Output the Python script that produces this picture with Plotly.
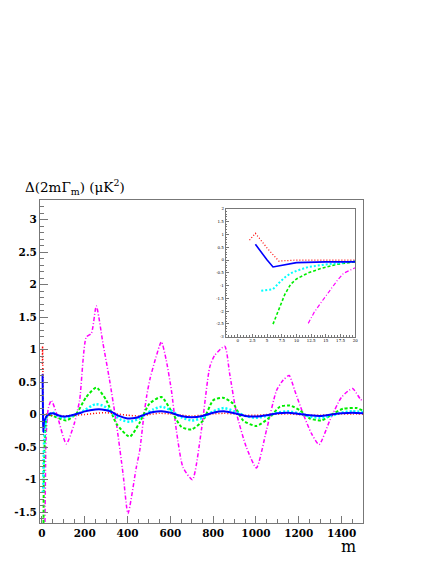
import plotly.graph_objects as go

# values, per series (m, Delta(2m Gamma_m))
m_red = [2, 3, 5, 7, 10, 20, 40, 60, 100, 150, 200, 250, 300, 350, 400, 450, 500, 550, 600,
         650, 700, 750, 800, 850, 900, 950, 1000, 1050, 1100, 1150, 1200, 1250, 1300, 1350,
         1400, 1450, 1500]
y_red = [0.78, 1.05, 0.47, -0.04, 0.0, 0.01, -0.02, 0.0, -0.02, -0.01, 0.0, 0.02, 0.03, 0.01,
         -0.01, -0.02, 0.0, 0.02, 0.01, -0.01, -0.02, -0.01, 0.01, 0.02, 0.01, -0.01, -0.01,
         0.0, 0.01, 0.01, 0.0, -0.01, -0.01, 0.0, 0.01, 0.01, 0.01]

m_blue = [3, 4, 5, 6, 8, 10, 15, 20, 30, 50, 75, 100, 125, 150, 175, 200, 250, 280, 320, 360,
          400, 440, 480, 520, 560, 600, 650, 700, 750, 800, 850, 900, 950, 1000, 1050, 1100,
          1150, 1200, 1250, 1300, 1350, 1400, 1450, 1500]
y_blue = [0.62, 0.3, 0.0, -0.27, -0.18, -0.1, -0.07, -0.03, 0.0, 0.02, -0.01, -0.03, -0.02,
          0.0, 0.02, 0.05, 0.08, 0.08, 0.05, -0.02, -0.06, -0.05, 0.0, 0.04, 0.05, 0.03, -0.02,
          -0.04, -0.02, 0.03, 0.05, 0.02, -0.02, -0.03, -0.01, 0.02, 0.03, 0.01, -0.01, -0.02,
          0.0, 0.02, 0.03, 0.02]

m_cyan = [4, 5, 6, 7, 8, 9, 10, 12, 15, 18, 20, 30, 50, 75, 100, 130, 160, 200, 250, 290, 330,
          370, 410, 450, 490, 520, 560, 600, 650, 700, 750, 800, 850, 900, 950, 1000, 1050,
          1100, 1150, 1200, 1250, 1300, 1350, 1400, 1450, 1500]
y_cyan = [-1.2, -1.17, -1.14, -0.9, -0.68, -0.52, -0.42, -0.27, -0.17, -0.1, -0.04, 0.0, 0.03,
          -0.02, -0.05, -0.03, 0.0, 0.07, 0.16, 0.13, 0.02, -0.08, -0.11, -0.07, 0.02, 0.08,
          0.12, 0.07, -0.04, -0.09, -0.05, 0.05, 0.1, 0.05, -0.02, -0.05, -0.02, 0.03, 0.05,
          0.02, -0.03, -0.05, -0.02, 0.03, 0.05, 0.04]

m_green = [6, 7, 8, 9, 10, 12, 14, 17, 20, 28, 50, 67, 114, 161, 207, 254, 301, 348, 410, 457,
           503, 558, 612, 652, 698, 753, 800, 846, 893, 940, 1002, 1065, 1111, 1158, 1205,
           1252, 1306, 1361, 1407, 1470, 1500]
y_green = [-2.51, -1.9, -1.35, -0.95, -0.74, -0.5, -0.34, -0.16, -0.07, 0.0, -0.02, -0.04,
           -0.09, 0.015, 0.27, 0.415, 0.22, -0.14, -0.34, -0.12, 0.17, 0.27, 0.015, -0.19,
           -0.23, -0.09, 0.22, 0.26, 0.17, -0.09, -0.175, -0.04, 0.12, 0.14, 0.066, -0.06,
           -0.09, 0.015, 0.09, 0.1, 0.06]

m_mag = [12, 13, 14, 15, 16, 17, 18, 19, 20, 30, 44, 70, 114, 150, 176, 207, 231, 254, 285,
         316, 348, 379, 402, 441, 457, 475, 490, 505, 530, 558, 580, 605, 628, 659, 703, 745,
         784, 807, 854, 877, 909, 955, 1002, 1049, 1096, 1127, 1155, 1181, 1220, 1259, 1295,
         1345, 1400, 1451, 1485, 1500]
y_mag = [-2.48, -2.05, -1.72, -1.4, -1.1, -0.78, -0.52, -0.4, -0.3, 0.1, 0.22, 0.0, -0.45,
         -0.15, 0.22, 1.19, 1.25, 1.67, 1.1, 0.53, -0.14, -0.91, -1.52, -0.81, -0.55, -0.05,
         0.3, 0.55, 0.85, 1.12, 0.85, 0.37, -0.24, -0.81, -1.0, -0.24, 0.73, 0.91, 1.05, 0.63,
         0.02, -0.5, -0.82, -0.24, 0.37, 0.53, 0.6, 0.37, 0.015, -0.29, -0.46, -0.09, 0.27,
         0.4, 0.25, 0.2]

series = [
    (m_mag, y_mag, "#ff00ff", "4px,2px,1px,2px", 1.5),
    (m_green, y_green, "#00ee00", "3px,2px", 2),
    (m_cyan, y_cyan, "#00ffff", "2px,2px", 2.5),
    (m_red, y_red, "#ff0000", "1px,2px", 1.5),
    (m_blue, y_blue, "#0000ff", "solid", 2),
]

fig = go.Figure()
for mx, vy, col, dash, w in series:
    fig.add_trace(go.Scatter(x=mx, y=vy, mode="lines",
                             line=dict(color=col, dash=dash, width=w, shape="spline", smoothing=0.6),
                             xaxis="x", yaxis="y", showlegend=False, hoverinfo="skip"))
# inset: same series, first few multipoles
for mx, vy, col, dash, w in series:
    fig.add_trace(go.Scatter(x=mx, y=vy, mode="lines", line=dict(color=col, dash=dash, width=w * 0.8),
                             xaxis="x2", yaxis="y2", showlegend=False, hoverinfo="skip"))

serif = "DejaVu Serif"
tickfont = dict(family=serif, size=10.5, color="black", weight="bold")
small = dict(family=serif, size=4, color="black")
frame = dict(showline=True, linecolor="#777", linewidth=1, mirror=True, showgrid=False,
             zeroline=False, automargin=False)

# page body has an 8px margin, so the figure is 16px smaller than the window
fig.update_layout(
    width=420, height=548,
    margin=dict(l=32, r=65, t=192, b=33),
    font=dict(family=serif),
    paper_bgcolor="white", plot_bgcolor="white",
    xaxis=dict(domain=[0, 1], range=[-9, 1500], tickvals=[0, 200, 400, 600, 800, 1000, 1200, 1400],
               ticks="inside", ticklen=7, tickcolor="#777", tickfont=tickfont,
               minor=dict(ticks="inside", dtick=50, ticklen=4, tickcolor="#777"), **frame),
    yaxis=dict(domain=[0, 1], range=[-1.667, 3.3], tickvals=[-1.5, -1, -0.5, 0, 0.5, 1, 1.5, 2, 2.5, 3],
               ticktext=["-1.5", "-1", "-0.5", "0", "0.5", "1", "1.5", "2", "2.5", "3"],
               ticks="inside", ticklen=8, tickcolor="#777", tickfont=tickfont,
               minor=dict(ticks="inside", dtick=0.1, ticklen=4, tickcolor="#777"), **frame),
    xaxis2=dict(domain=[0.575, 0.976], anchor="y2", range=[-2.05, 20],
                tickvals=[0, 2.5, 5, 7.5, 10, 12.5, 15, 17.5, 20],
                ticktext=["0", "2.5", "5", "7.5", "10", "12.5", "15", "17.5", "20"],
                ticks="inside", ticklen=3, tickcolor="#777", tickfont=small,
                minor=dict(ticks="inside", dtick=0.5, ticklen=1.5, tickcolor="#777"), **frame),
    yaxis2=dict(domain=[0.577, 0.972], anchor="x2", range=[-3, 2],
                tickvals=[-3, -2.5, -2, -1.5, -1, -0.5, 0, 0.5, 1, 1.5, 2],
                ticktext=["-3", "-2.5", "-2", "-1.5", "-1", "-0.5", "0", "0.5", "1", "1.5", "2"],
                ticks="inside", ticklen=3, tickcolor="#777", tickfont=small,
                minor=dict(ticks="inside", dtick=0.1, ticklen=1.5, tickcolor="#777"), **frame),
    annotations=[
        dict(text="Δ(2mΓ<sub>m</sub>) (μK<sup>2</sup>)", xref="paper", yref="paper", x=-0.054, y=1,
             xanchor="left", yanchor="bottom", yshift=1, showarrow=False,
             font=dict(family=serif, size=13.5, color="black")),
        dict(text="m", xref="paper", yref="paper", x=0.954, y=0, xanchor="center", yanchor="middle",
             yshift=-23, showarrow=False, font=dict(family=serif, size=16, color="black")),
    ],
)

fig.write_html("out.html")
